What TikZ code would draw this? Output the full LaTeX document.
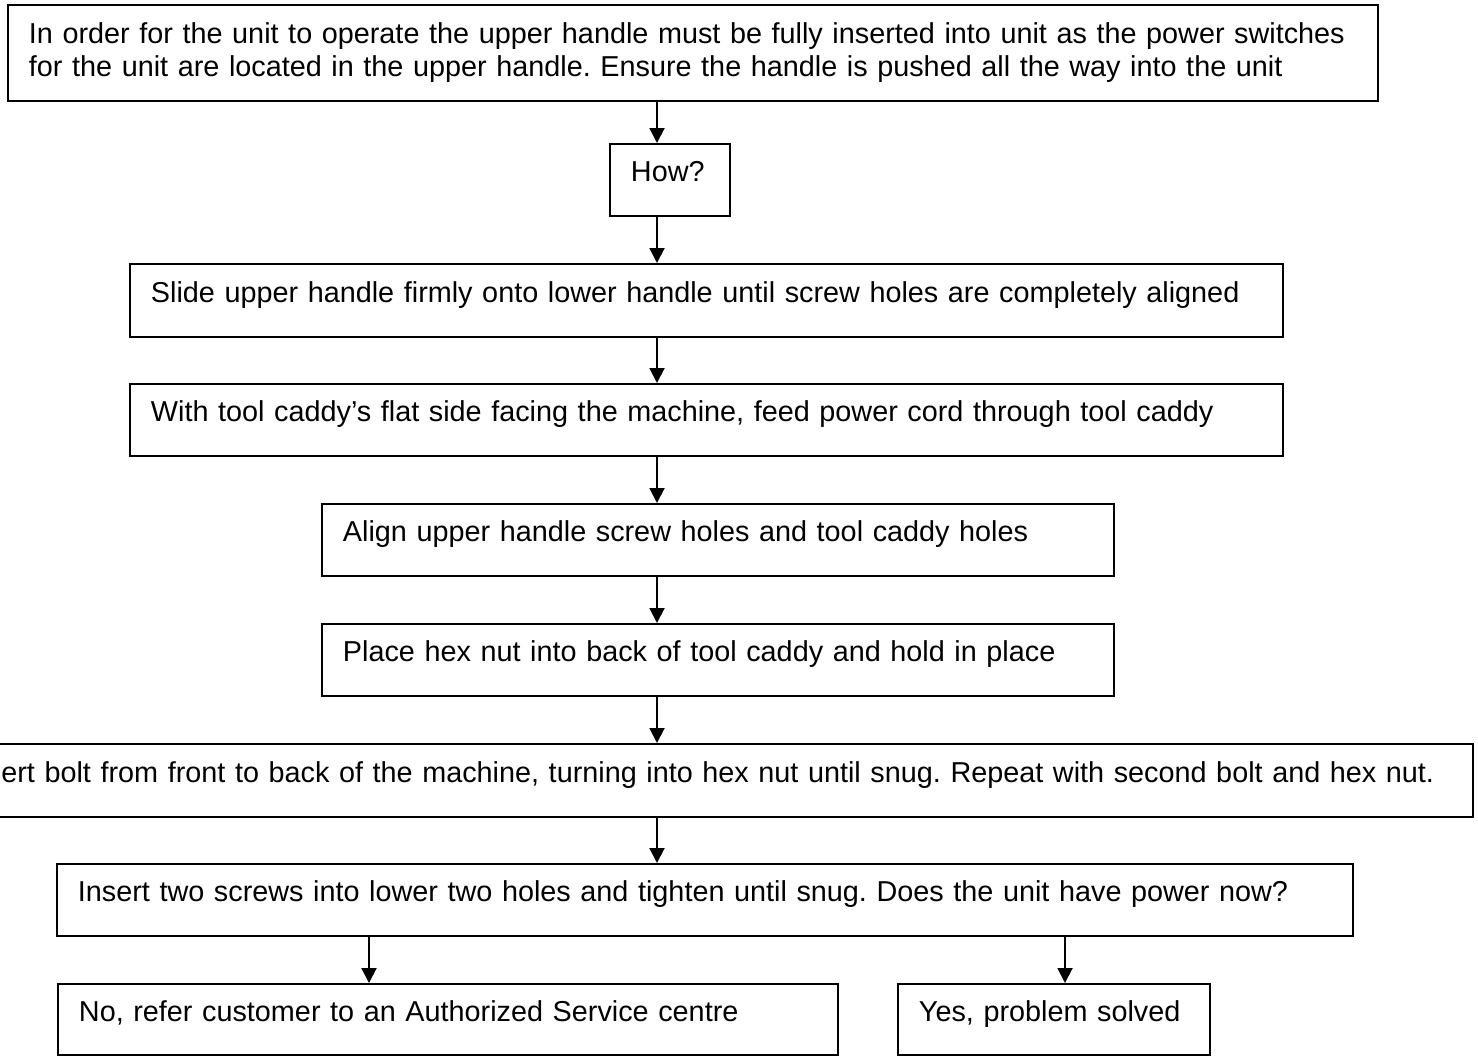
\documentclass[tikz,border=0pt]{standalone}
\usepackage{fontspec}
\setmainfont{Liberation Sans}
\frenchspacing
\usetikzlibrary{arrows.meta}
\tikzset{
  stepbox/.style={draw,line width=0.8pt,anchor=north west,align=left,
    inner xsep=8.75pt,inner ysep=0pt,text height=15.83pt,text depth=14.17pt},
  flow/.style={-{Triangle[length=6.25pt,width=6.25pt]},line width=0.8pt}
}

\begin{document}
\begin{tikzpicture}[x=0.41667pt,y=-0.41667pt,
  every node/.style={font=\fontsize{12pt}{13.75pt}\selectfont}]

\useasboundingbox (0,0) rectangle (1478,1057);

% Where the arrows run
\coordinate (spine) at (657,0);
\coordinate (nobranch) at (369,0);
\coordinate (yesbranch) at (1065,0);

% Main steps, top to bottom
\node[stepbox,text width=553.33pt,text height=16.25pt,text depth=23.75pt] (intro) at (7,4)
  {In order for the unit to operate the upper handle must be fully inserted into unit as the power switches\\
   for the unit are located in the upper handle. Ensure the handle is pushed all the way into the unit};
\node[stepbox,text width=32.5pt] (how) at (609,143) {How?};
\node[stepbox,text width=462.92pt,text height=16.25pt,text depth=14.17pt] (slide) at (129,263)
  {Slide upper handle firmly onto lower handle until screw holes are completely aligned};
\node[stepbox,text width=462.92pt] (caddy) at (129,383)
  {With tool caddy’s flat side facing the machine, feed power cord through tool caddy};
\node[stepbox,text width=312.5pt] (align) at (321,503)
  {Align upper handle screw holes and tool caddy holes};
\node[stepbox,text width=312.5pt] (hexnut) at (321,623)
  {Place hex nut into back of tool caddy and hold in place};
\node[stepbox,text width=620.42pt,text height=16.25pt,text depth=14.17pt] (bolt) at (-59,743)
  {Insert bolt from front to back of the machine, turning into hex nut until snug. Repeat with second bolt and hex nut.};
\node[stepbox,text width=522.5pt] (screws) at (56,863)
  {Insert two screws into lower two holes and tighten until snug. Does the unit have power now?};

% Answers
\node[stepbox,text width=307.5pt,text depth=13.75pt] (no) at (57,983)
  {No, refer customer to an Authorized Service centre};
\node[stepbox,text width=112.5pt,text depth=13.75pt] (yes) at (897,983)
  {Yes, problem solved};

% Flow down the spine
\draw[flow] (intro.south -| spine) -- (how.north -| spine);
\draw[flow] (how.south -| spine) -- (slide.north -| spine);
\draw[flow] (slide.south -| spine) -- (caddy.north -| spine);
\draw[flow] (caddy.south -| spine) -- (align.north -| spine);
\draw[flow] (align.south -| spine) -- (hexnut.north -| spine);
\draw[flow] (hexnut.south -| spine) -- (bolt.north -| spine);
\draw[flow] (bolt.south -| spine) -- (screws.north -| spine);

% Branches
\draw[flow] (screws.south -| nobranch) -- (no.north -| nobranch);
\draw[flow] (screws.south -| yesbranch) -- (yes.north -| yesbranch);

\end{tikzpicture}
\end{document}
